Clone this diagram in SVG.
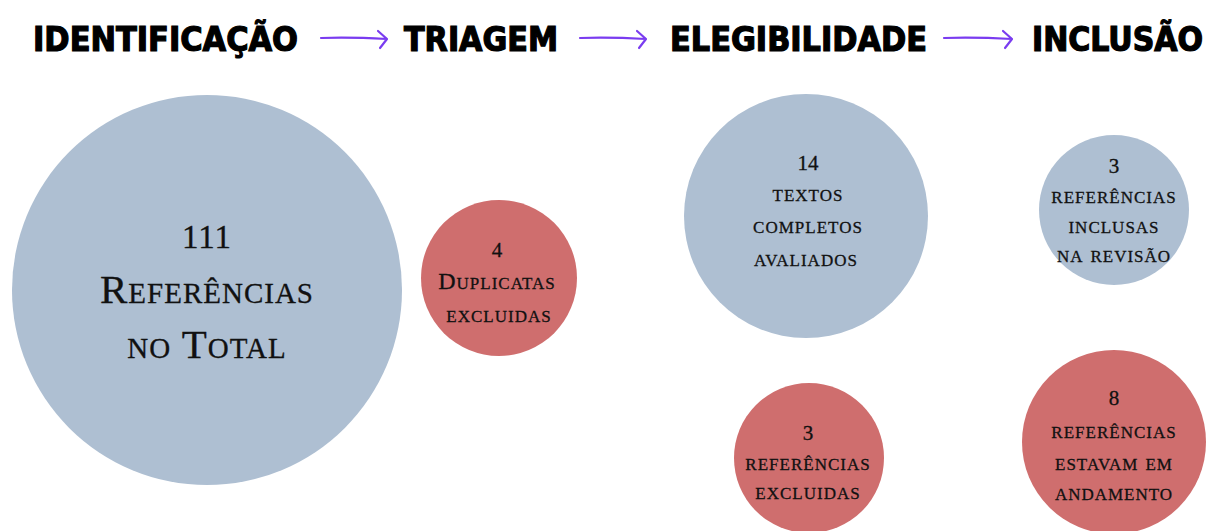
<svg xmlns="http://www.w3.org/2000/svg" width="1207" height="531" viewBox="0 0 1207 531">
<style>
.h{font-family:"Liberation Sans Narrow","DejaVu Sans Condensed","Liberation Sans",sans-serif;font-weight:bold;font-size:34px;fill:#000;stroke:#000;stroke-width:1.2}
.blue{fill:#aebfd2}
.red{fill:#cf6e6e}
.t{font-family:"Liberation Serif","DejaVu Serif",serif;font-variant:small-caps;fill:#111;stroke:#111;stroke-width:0.3;text-anchor:middle;font-size:24px;letter-spacing:1px}
.n{font-size:21px;letter-spacing:0}
.big{font-size:41px;letter-spacing:1px}
.bn{font-size:33px}
.arr{fill:none;stroke:#7a3cf0;stroke-width:2.2;stroke-linecap:round;stroke-linejoin:round}
</style>
<rect width="1207" height="531" fill="#fff"/>
<g id="headings">
<text class="h" x="33" y="51" textLength="265" lengthAdjust="spacingAndGlyphs">IDENTIFICAÇÃO</text>
<text class="h" x="404" y="51" textLength="154" lengthAdjust="spacingAndGlyphs">TRIAGEM</text>
<text class="h" x="670" y="51" textLength="257" lengthAdjust="spacingAndGlyphs">ELEGIBILIDADE</text>
<text class="h" x="1032" y="51" textLength="171" lengthAdjust="spacingAndGlyphs">INCLUSÃO</text>
</g>
<g id="connectors">
<path class="arr" d="M321 38 Q350 37 387 39 M378 31 L387 39 L380 48"/>
<path class="arr" d="M580 38 Q610 37 646 39 M637 31 L646 39 L639 48"/>
<path class="arr" d="M944 38 Q975 37 1012 39 M1003 31 L1012 39 L1005 48"/>
</g>
<g id="node-total">
<circle class="blue" cx="207" cy="290" r="195"/>
<text class="t big bn" x="207" y="248">111</text>
<text class="t big" x="207" y="303">Referências</text>
<text class="t big" x="207" y="358">no Total</text>
</g>
<g id="node-duplicatas">
<circle class="red" cx="499" cy="278" r="78"/>
<text class="t n" x="497" y="257">4</text>
<text class="t" x="497" y="289">Duplicatas</text>
<text class="t" x="499" y="322">excluidas</text>
</g>
<g id="node-textos">
<circle class="blue" cx="806" cy="216" r="122"/>
<text class="t n" x="808" y="170">14</text>
<text class="t" x="808" y="201">textos</text>
<text class="t" x="808" y="233">completos</text>
<text class="t" x="806" y="266">avaliados</text>
</g>
<g id="node-inclusas">
<circle class="blue" cx="1114" cy="210" r="75"/>
<text class="t n" x="1114" y="173">3</text>
<text class="t" x="1114" y="203">referências</text>
<text class="t" x="1114" y="233">inclusas</text>
<text class="t" x="1114" y="262">na revisão</text>
</g>
<g id="node-excluidas">
<circle class="red" cx="809" cy="458" r="75"/>
<text class="t n" x="808" y="440">3</text>
<text class="t" x="808" y="470">referências</text>
<text class="t" x="808" y="499">excluidas</text>
</g>
<g id="node-andamento">
<circle class="red" cx="1114" cy="442" r="92"/>
<text class="t n" x="1114" y="405">8</text>
<text class="t" x="1114" y="438">referências</text>
<text class="t" x="1114" y="470">estavam em</text>
<text class="t" x="1114" y="500">andamento</text>
</g>
</svg>
